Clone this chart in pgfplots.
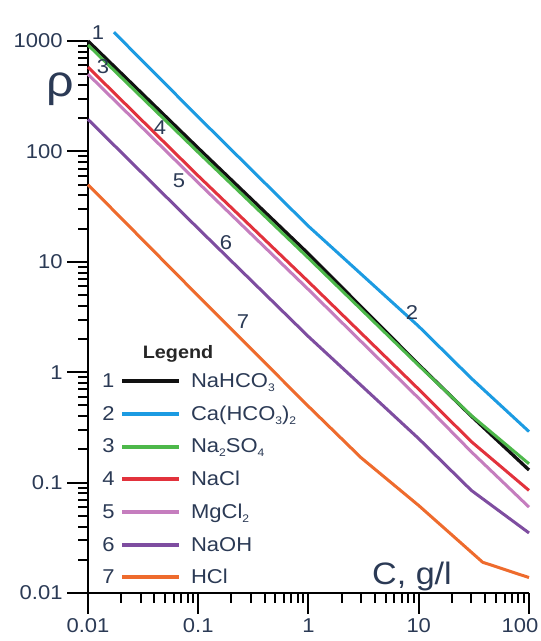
\documentclass[border=0pt]{standalone}
\usepackage{fontspec}
\setmainfont{Liberation Sans}[FakeStretch=1.1]
\usepackage{pgfplots}
\pgfplotsset{compat=1.18}
\definecolor{c1}{HTML}{111111}
\definecolor{c2}{HTML}{1C9BE2}
\definecolor{c3}{HTML}{4DB84A}
\definecolor{c4}{HTML}{E2323C}
\definecolor{c5}{HTML}{C57DBE}
\definecolor{c6}{HTML}{7E4DA0}
\definecolor{c7}{HTML}{EE6B2D}
\definecolor{txt}{HTML}{2B3A55}
\newcommand\sub[1]{\raisebox{-0.35ex}{\fontsize{11}{11}\selectfont #1}}
\newcommand\leg[2]{\node[anchor=east,inner sep=0pt,text=txt] at (-6pt,0pt){#2};\draw[#1,line width=4pt] (0pt,0pt) -- (57pt,0pt);}
\begin{document}
\begin{tikzpicture}
\path[use as bounding box] (0pt,0pt) rectangle (541pt,641pt);
\begin{axis}[
  at={(88pt,48pt)}, anchor=south west,
  scale only axis, width=441pt, height=552pt,
  xmode=log, ymode=log,
  xmin=0.01, xmax=100, ymin=0.01, ymax=1000,
  axis lines=left, axis line style={-, line width=2.4pt, black},
  clip=false,
  tick align=outside,
  major tick length=21pt, minor tick length=10pt,
  every tick/.style={black, line width=2pt},
  xtick={0.01,0.1,1,10,100}, xticklabels={0.01,0.1,1,10,{\hspace*{-18pt}100}},
  ytick={0.01,0.1,1,10,100,1000}, yticklabels={0.01,0.1,1,10,100,1000},
  minor xtick={0.02,0.03,0.04,0.05,0.06,0.07,0.08,0.09,0.2,0.3,0.4,0.5,0.6,0.7,0.8,0.9,2,3,4,5,6,7,8,9,20,30,40,50,60,70,80,90},
  minor ytick={0.02,0.03,0.04,0.05,0.06,0.07,0.08,0.09,0.2,0.3,0.4,0.5,0.6,0.7,0.8,0.9,2,3,4,5,6,7,8,9,20,30,40,50,60,70,80,90,200,300,400,500,600,700,800,900},
  /pgf/number format/assume math mode=true,
  ticklabel style={font=\fontsize{20}{22}\selectfont, text=txt},
  xticklabel style={yshift=-1pt},
  yticklabel style={xshift=-1pt},
  legend style={at={(0.025,0.405)}, anchor=north west, draw=none, fill=none,
    font=\fontsize{20}{22}\selectfont, text=txt, row sep=12.9pt,
    /tikz/every odd column/.append style={column sep=8pt}},
  legend cell align=left,
]
\addplot[c1, line width=3.3pt, legend image code/.code={\leg{c1}{1}}] coordinates {(0.01,1000)(0.1,107)(1,11.8)(10,1.17)(30,0.40)(100,0.13)};
\addlegendentry{NaHCO\sub{3}}
\addplot[c2, line width=3pt, legend image code/.code={\leg{c2}{2}}] coordinates {(0.0172,1200)(0.1,205)(1,21)(10,2.6)(30,0.88)(100,0.29)};
\addlegendentry{Ca(HCO\sub{3})\sub{2}}
\addplot[c3, line width=3pt, legend image code/.code={\leg{c3}{3}}] coordinates {(0.01,920)(0.1,98)(1,10.8)(10,1.15)(30,0.405)(100,0.148)};
\addlegendentry{Na\sub{2}SO\sub{4}}
\addplot[c4, line width=3pt, legend image code/.code={\leg{c4}{4}}] coordinates {(0.01,580)(0.1,60)(1,6.6)(10,0.70)(30,0.235)(100,0.085)};
\addlegendentry{NaCl}
\addplot[c5, line width=3pt, legend image code/.code={\leg{c5}{5}}] coordinates {(0.01,500)(0.1,52)(1,5.6)(10,0.58)(30,0.19)(100,0.060)};
\addlegendentry{MgCl\sub{2}}
\addplot[c6, line width=3pt, legend image code/.code={\leg{c6}{6}}] coordinates {(0.01,195)(0.1,20)(1,2.1)(10,0.25)(30,0.085)(100,0.035)};
\addlegendentry{NaOH}
\addplot[c7, line width=3pt, legend image code/.code={\leg{c7}{7}}] coordinates {(0.01,50)(0.1,4.9)(1,0.49)(3,0.168)(10,0.062)(38,0.019)(100,0.0138)};
\addlegendentry{HCl}
\end{axis}
\begin{scope}[every node/.style={text=txt, font=\fontsize{20}{22}\selectfont, inner sep=0pt}]
\node at (98pt,608pt) {1};
\node at (103pt,574pt) {3};
\node at (160pt,513pt) {4};
\node at (179pt,460pt) {5};
\node at (226pt,398pt) {6};
\node at (243pt,319pt) {7};
\node at (412pt,328pt) {2};
\node[font=\fontsize{31}{34}\selectfont] at (412pt,65pt) {C, g/l};
\node[font=\fontsize{44}{46}\selectfont] at (60pt,552pt) {ρ};
\node[font=\bfseries\fontsize{18}{20}\selectfont, text=black!85] at (178pt,287pt) {Legend};
\end{scope}
\end{tikzpicture}
\end{document}
